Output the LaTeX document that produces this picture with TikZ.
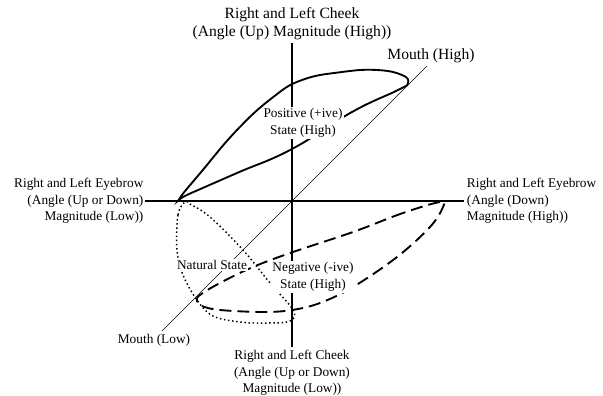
\documentclass[tikz,border=0pt]{standalone}
\usepackage{fontspec}
\setmainfont{Liberation Serif}
\usetikzlibrary{positioning}

\begin{document}
\begin{tikzpicture}[x=0.75pt,y=0.75pt,
    biglbl/.style={font=\fontsize{11.7}{13.5}\selectfont, align=center, inner sep=2pt},
    axislbl/.style={font=\fontsize{10}{12.4}\selectfont, align=center, inner sep=2pt},
    statelbl/.style={font=\fontsize{10}{12.6}\selectfont, align=center, fill=white, inner sep=1pt},
    axisline/.style={line width=1pt},
    posloop/.style={line width=1.4pt},
    negloop/.style={line width=1.4pt, dash pattern=on 9pt off 4.5pt},
    natloop/.style={line width=1.1pt, dotted}]
    \useasboundingbox (-292,-195) rectangle (311,201);
    \node[biglbl] (cheekhigh) at (0,177) {Right and Left Cheek\\(Angle (Up) Magnitude (High))};
    \node[axislbl] (cheeklow) at (0,-172) {Right and Left Cheek\\(Angle (Up or Down)\\Magnitude (Low))};
    \node[axislbl, align=right, anchor=east, inner sep=1pt] (browlow) at (-147,0) {Right and Left Eyebrow\\(Angle (Up or Down)\\Magnitude (Low))};
    \node[axislbl, align=left, anchor=west] (browhigh) at (172,0) {Right and Left Eyebrow\\(Angle (Down)\\Magnitude (High))};
    \coordinate (mouthlowend) at (-130,-130);
    \coordinate (mouthhighend) at (135,135);
    \node[axislbl, below=0pt of mouthlowend, xshift=-6pt] (mouthlow) {Mouth (Low)};
    \node[biglbl, above=0pt of mouthhighend, xshift=3pt] (mouthhigh) {Mouth (High)};

    \draw[axisline] (cheekhigh.south) -- (cheeklow.north);
    \draw[axisline] (browlow.east) -- (browhigh.west);
    \draw[line width=0.5pt] (mouthlowend) -- (mouthhighend);

    \draw[posloop] plot[smooth cycle, tension=0.75] coordinates {(-112,3) (-90,30) (-55,71) (-20,103) (10,121) (50,129) (85,131) (110,126) (116,118) (106,111) (60,89) (0,52) (-55,28) (-103,7)};
    \draw[negloop] plot[smooth cycle, tension=0.6] coordinates {(148,-1) (111,-12) (61,-31) (1,-51) (-39,-66) (-72,-82) (-92,-94) (-95,-100) (-90,-105) (-72,-109) (-29,-111) (0,-109) (28,-102) (61,-86) (105,-56) (138,-26) (151,-6)};
    \draw[natloop] plot[smooth cycle, tension=0.6] coordinates {(-107,-1) (-114,-14) (-115,-49) (-109,-74) (-95,-99) (-79,-115) (-52,-121) (-25,-122) (-2,-120) (1,-109) (-22,-82) (-49,-49) (-82,-16) (-102,-3)};

    \node[statelbl] (posstate) at (11,78) {Positive (+ive)\\State (High)};
    \node[statelbl] (negstate) at (21,-76) {Negative (-ive)\\State (High)};
    \node[statelbl] (natstate) at (-80,-64) {Natural State};
\end{tikzpicture}
\end{document}
